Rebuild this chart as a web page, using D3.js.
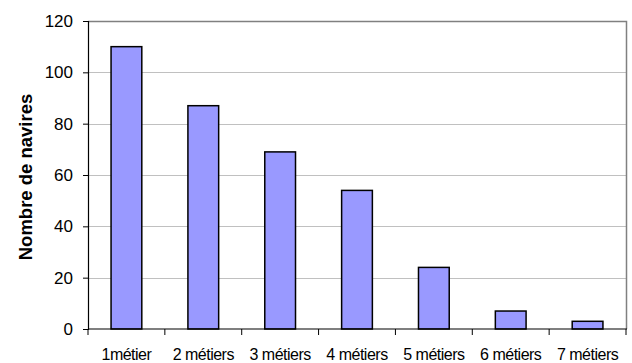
<!DOCTYPE html>
<html><head><meta charset="utf-8">
<script src="https://cdn.jsdelivr.net/npm/d3@7"></script>
<style>body{margin:0;background:#fff}svg{display:block}text{font-family:"Liberation Sans",Arial,sans-serif}</style>
</head><body>
<svg id="c" width="632" height="363"></svg>
<script>
const categories = ["1métier","2 métiers","3 métiers","4 métiers","5 métiers","6 métiers","7 métiers"];
const values = [110, 87, 69, 54, 24, 7, 3];
const yTicks = [0, 20, 40, 60, 80, 100, 120];
const yTitle = "Nombre de navires";

const svg = d3.select("#c");
const m = {left: 88, right: 626, top: 21, bottom: 329};
const x = d3.scaleBand().domain(categories).range([m.left, m.right]).paddingInner(0.6).paddingOuter(0.3);
const y = d3.scaleLinear().domain([0, 120]).range([m.bottom, m.top]);

// gridlines
svg.append("g").selectAll("line").data(yTicks.filter(d => d > 0 && d < 120)).join("line")
  .attr("x1", m.left).attr("x2", m.right)
  .attr("y1", d => Math.round(y(d)) + 0.5).attr("y2", d => Math.round(y(d)) + 0.5)
  .attr("stroke", "#c0c0c0").attr("stroke-width", 1);

// plot border (top & right)
svg.append("path")
  .attr("d", `M${m.left},${m.top + 0.5}H${m.right + 0.5}V${m.bottom}`)
  .attr("fill", "none").attr("stroke", "#808080").attr("stroke-width", 1.5);

// bars
svg.append("g").selectAll("rect").data(values).join("rect")
  .attr("x", (d, i) => x(categories[i]))
  .attr("width", x.bandwidth())
  .attr("y", d => y(d))
  .attr("height", d => y(0) - y(d))
  .attr("fill", "#9999ff").attr("stroke", "#000").attr("stroke-width", 1.5);

// y axis
const ya = svg.append("g").attr("transform", `translate(${m.left},0)`)
  .call(d3.axisLeft(y).tickValues(yTicks).tickSize(5).tickPadding(10));
ya.select(".domain").attr("stroke", "#000").attr("stroke-width", 1.2);
ya.selectAll(".tick line").attr("stroke", "#000");
ya.selectAll("text").attr("font-size", 17).attr("fill", "#000").attr("font-family", '"Liberation Sans",Arial,sans-serif');

// x axis
const xa = svg.append("g").attr("transform", `translate(0,${m.bottom})`);
xa.append("line").attr("x1", m.left).attr("x2", m.right + 1).attr("stroke", "#000").attr("stroke-width", 1.2);
xa.selectAll("line.tk").data(categories.concat(["end"])).join("line").attr("class", "tk")
  .attr("x1", (d, i) => m.left + i * (m.right - m.left) / categories.length)
  .attr("x2", (d, i) => m.left + i * (m.right - m.left) / categories.length)
  .attr("y1", 0).attr("y2", 6).attr("stroke", "#000");
xa.selectAll("text").data(categories).join("text")
  .attr("x", d => x(d) + x.bandwidth() / 2)
  .attr("y", 31)
  .attr("text-anchor", "middle")
  .attr("font-size", 16).attr("letter-spacing", -0.5)
  .text(d => d);

// y title
svg.append("text")
  .attr("transform", "translate(32,177) rotate(-90)")
  .attr("text-anchor", "middle")
  .attr("font-size", 18.5).attr("font-weight", "bold")
  .text(yTitle);
</script>
</body></html>
